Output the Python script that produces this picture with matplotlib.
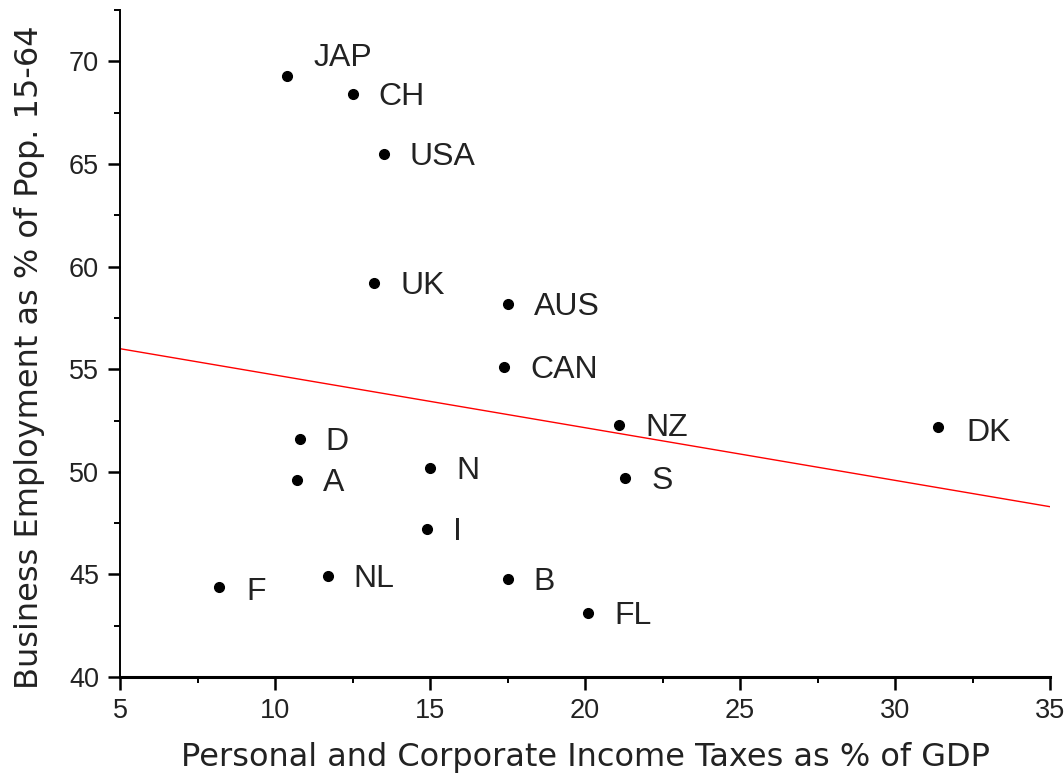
import matplotlib
matplotlib.use("Agg")
import matplotlib.pyplot as plt
from matplotlib.ticker import MultipleLocator

plt.rcParams['font.family'] = ['Liberation Sans', 'DejaVu Sans']

countries = ["JAP", "CH", "USA", "UK", "AUS", "CAN", "NZ", "DK", "D", "A",
             "N", "S", "I", "F", "NL", "B", "FL"]
taxes = [10.4, 12.5, 13.5, 13.2, 17.5, 17.4, 21.1, 31.4, 10.8, 10.7,
         15.0, 21.3, 14.9, 8.2, 11.7, 17.5, 20.1]
employment = [69.3, 68.4, 65.5, 59.2, 58.2, 55.1, 52.3, 52.2, 51.6, 49.6,
              50.2, 49.7, 47.2, 44.4, 44.9, 44.8, 43.1]
trend_x = [5, 35]
trend_y = [56.0, 48.3]

# label offsets in pixels (dx, dy)
offsets = {"JAP": (26, 18), "F": (27, -5), "DK": (28, -6)}
default_off = (26, -3)

fig = plt.figure(figsize=(10.64, 7.78), dpi=100)
ax = fig.add_axes([0.1128, 0.1298, 0.8741, 0.8572])

ax.plot(trend_x, trend_y, color='red', lw=1.0)
ax.plot(taxes, employment, 'o', color='black', ms=7, ls='none')
for c, x, y in zip(countries, taxes, employment):
    dx, dy = offsets.get(c, default_off)
    ax.annotate(c, (x, y), xytext=(dx, dy), textcoords='offset pixels',
                ha='left', va='center', fontsize=23, color='#222222')

ax.set_xlim(5, 35)
ax.set_ylim(40, 72.5)
ax.xaxis.set_major_locator(MultipleLocator(5))
ax.xaxis.set_minor_locator(MultipleLocator(2.5))
ax.yaxis.set_major_locator(MultipleLocator(5))
ax.yaxis.set_minor_locator(MultipleLocator(2.5))
ax.spines['top'].set_visible(False)
ax.spines['right'].set_visible(False)
ax.spines['bottom'].set_linewidth(2.2)
ax.spines['left'].set_linewidth(1.4)
ax.tick_params(which='major', direction='out', length=9, width=1.8, labelsize=19.5, pad=6)
ax.tick_params(which='minor', direction='out', length=4, width=1.4)
ax.set_yticks([40, 45, 50, 55, 60, 65, 70])

ax.set_xlabel("Personal and Corporate Income Taxes as % of GDP", fontsize=23,
              family='DejaVu Sans', labelpad=13, color='#222222')
ax.set_ylabel("Business Employment as % of Pop. 15-64", fontsize=23,
              family='DejaVu Sans', labelpad=16, color='#222222')
ax.yaxis.set_label_coords(-0.081, 0.48)
for lab in ax.get_xticklabels() + ax.get_yticklabels():
    lab.set_color('#222222')

fig.savefig("out.png", dpi=100)
